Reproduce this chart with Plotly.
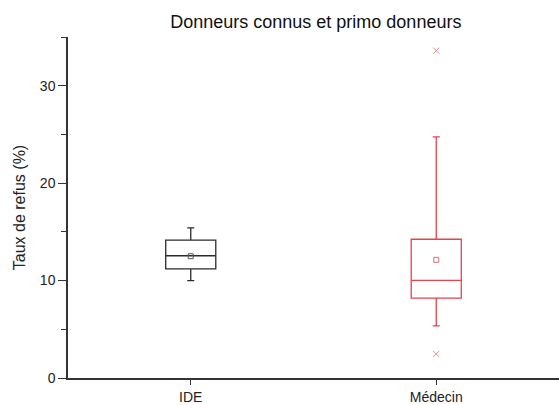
import plotly.graph_objects as go

categories = ["IDE", "Médecin"]
positions = [1, 2]
q1 = [11.2, 8.2]
median = [12.55, 10.03]
q3 = [14.15, 14.24]
lower = [10.0, 5.36]
upper = [15.4, 24.75]
means = [12.5, 12.13]
outlier_x = ["Médecin", "Médecin"]
outlier_y = [33.6, 2.47]
colors = ["#2b2b2b", "#e8424c"]
mean_colors = ["#555555", "#e36a72"]
outlier_color = "#e88a92"

FONT = "Liberation Sans, Arial, sans-serif"

fig = go.Figure()
for i, cat in enumerate(categories):
    fig.add_trace(go.Box(
        x=[positions[i]], q1=[q1[i]], median=[median[i]], q3=[q3[i]],
        lowerfence=[lower[i]], upperfence=[upper[i]],
        width=0.204, whiskerwidth=0.14,
        line=dict(color=colors[i], width=1.3),
        fillcolor="rgba(255,255,255,0)",
        showlegend=False, hoverinfo="skip", boxpoints=False,
    ))
    fig.add_trace(go.Scatter(
        x=[positions[i]], y=[means[i]], mode="markers",
        marker=dict(symbol="square-open", size=5, color=mean_colors[i], line=dict(width=1)),
        showlegend=False, hoverinfo="skip",
    ))

ox = [positions[categories.index(c)] for c in outlier_x]
fig.add_trace(go.Scatter(
    x=ox, y=outlier_y, mode="markers",
    marker=dict(symbol="x-thin-open", size=6, color=outlier_color, line=dict(width=1, color=outlier_color)),
    showlegend=False, hoverinfo="skip",
))

fig.update_layout(
    width=559, height=405,
    margin=dict(l=68, r=0, t=37, b=25),
    paper_bgcolor="white", plot_bgcolor="white",
    font=dict(family=FONT, size=14, color="#222222"),
    title=dict(text="Donneurs connus et primo donneurs", font=dict(size=18, color="#111111"),
               x=0.565, xref="container", xanchor="center",
               y=1 - 22 / 405, yref="container", yanchor="middle"),
    xaxis=dict(range=[0.5, 2.5], tickvals=positions, ticktext=categories,
               showline=True, linecolor="#333333", linewidth=1.5,
               ticks="outside", ticklen=5, tickcolor="#333333", tickwidth=1.2,
               showgrid=False, zeroline=False),
    yaxis=dict(range=[0, 35], dtick=10, tick0=0,
               showline=True, linecolor="#333333", linewidth=1.5,
               ticks="outside", ticklen=8, tickcolor="#333333", tickwidth=1.2,
               minor=dict(ticks="outside", ticklen=5, dtick=5, tick0=5, tickcolor="#333333", tickwidth=1.2, showgrid=False),
               showgrid=False, zeroline=False,
               title=dict(text="Taux de refus (%)", font=dict(size=16), standoff=10)),
)

fig.write_html("out.html", config={"displayModeBar": False},
               post_script="document.body.style.margin='0px';")
